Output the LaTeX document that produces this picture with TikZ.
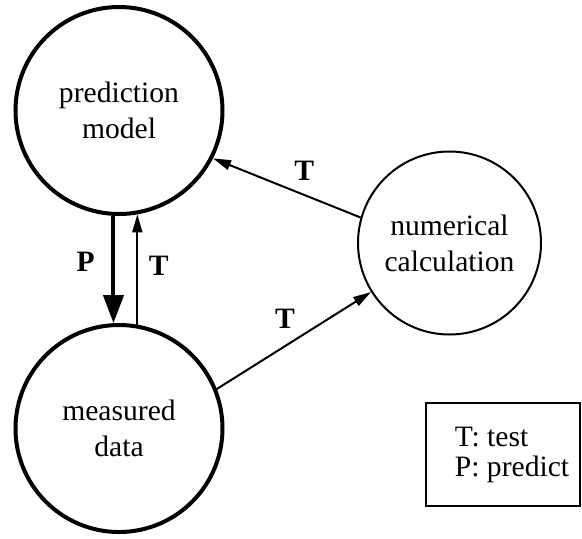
\documentclass[tikz,border=0pt]{standalone}
\usepackage{fontspec}
\setmainfont{Liberation Serif}
\usetikzlibrary{positioning,arrows.meta}

\begin{document}
\begin{tikzpicture}[
  x=0.5pt,y=0.5pt,
  big/.style={draw,circle,line width=2pt,minimum size=103.5pt,align=center,font=\fontsize{14.8}{18}\selectfont},
  small/.style={draw,circle,line width=1pt,minimum size=91.5pt,align=center,font=\fontsize{14.8}{18}\selectfont},
  arr/.style={-{Triangle[length=9pt,width=5pt]},line width=1pt},
  parr/.style={-{Triangle[length=14pt,width=10pt]},line width=2pt},
  lbl/.style={font=\fontsize{14.8}{18}\selectfont\bfseries}
]
\useasboundingbox (0,0) rectangle (582,538);
\node[big] (pm) at (119,427.5) {prediction\\model};
\node[big] (md) at (119,109.5) {measured\\data};
\node[small] (nc) at (449.5,295) {numerical\\calculation};
% predict / test between model and data
\draw[parr] (pm.-93) -- node[left=5pt,yshift=4pt,lbl] {P} (md.93);
\draw[arr] (md.80) -- node[right=2pt,yshift=2pt,lbl] {T} (pm.-80);
% tests through the calculation
\draw[arr] (md.22) -- node[above=2pt,xshift=-4.5pt,lbl] {T} (nc.212);
\draw[arr] (nc.164) -- node[above right,lbl] {T} (pm.-27);
% key
\node[draw,line width=1pt,minimum width=77pt,minimum height=51.5pt] (key) at (502.5,83.5) {};
\node[anchor=west,align=left,inner sep=0pt,font=\fontsize{14.8}{15}\selectfont] (keytxt)
  at ([xshift=15pt]key.west) {T: test\\P: predict};
\end{tikzpicture}
\end{document}
